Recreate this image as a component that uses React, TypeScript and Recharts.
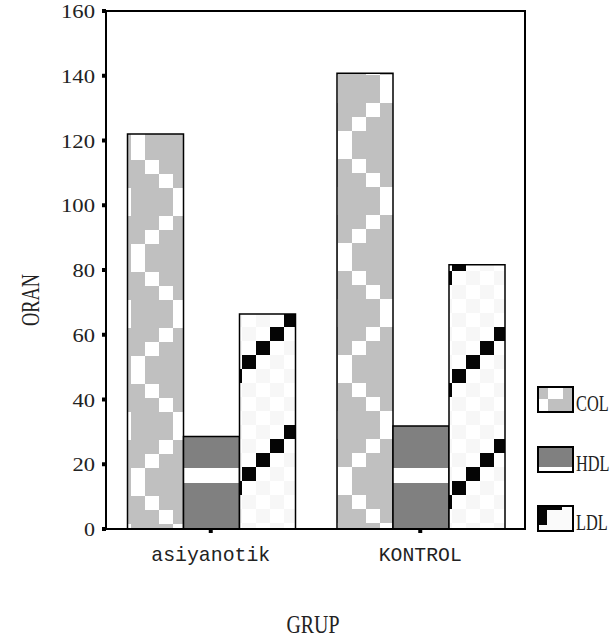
import React from 'react';
import { BarChart, Bar, XAxis, YAxis, Cell } from 'recharts';

const groups = ['asiyanotik', 'KONTROL'];
const colValues = [122, 140.8];
const hdlValues = [28.6, 31.8];
const ldlValues = [66.4, 81.6];
const seriesNames = ['COL', 'HDL', 'LDL'];
const yTicks = [0, 20, 40, 60, 80, 100, 120, 140, 160];

const data = groups.map((g, i) => ({
  grup: g,
  COL: colValues[i],
  HDL: hdlValues[i],
  LDL: ldlValues[i],
}));

const FONT = '"Liberation Serif", "DejaVu Serif", serif';
const MONO = '"Liberation Mono", "DejaVu Sans Mono", monospace';
const CELL = 14;
// zigzag column of the white cell, row by row
const ZIG = [0, 0, 1, 2, 3, 3, 2, 1];

function ColPattern({ id, x, y }: { id: string; x: number; y: number }) {
  return (
    <pattern id={id} patternUnits="userSpaceOnUse" x={x} y={y} width={CELL * 4} height={CELL * 8}>
      <rect width={CELL * 4} height={CELL * 8} fill="#c0c0c0" />
      {ZIG.map((c, r) => (
        <rect key={r} x={c * CELL} y={r * CELL} width={CELL} height={CELL} fill="#ffffff" />
      ))}
    </pattern>
  );
}

function LdlPattern() {
  const cells = [];
  for (let r = 0; r < 8; r++) {
    for (let c = 0; c < 8; c++) {
      const black = (c + r) % 8 === 2;
      const faint = (c + r) % 2 === 0;
      if (black || faint) {
        cells.push(
          <rect
            key={`${r}-${c}`}
            x={c * CELL}
            y={r * CELL}
            width={CELL}
            height={CELL}
            fill={black ? '#050505' : '#f7f7f7'}
          />
        );
      }
    }
  }
  return (
    <pattern id="ldl" patternUnits="userSpaceOnUse" x={4} y={5} width={CELL * 8} height={CELL * 8}>
      <rect width={CELL * 8} height={CELL * 8} fill="#ffffff" />
      {cells}
    </pattern>
  );
}

function XTick(props: any) {
  const { x, payload } = props;
  const label = String(payload.value);
  return (
    <text
      x={x}
      y={561}
      textAnchor="middle"
      fontFamily={MONO}
      fontSize={21}
      fill="#222"
      textLength={label.length * 12 - 1}
      lengthAdjust="spacingAndGlyphs"
    >
      {label}
    </text>
  );
}

function YTick(props: any) {
  const { y, payload } = props;
  const label = String(payload.value);
  return (
    <text
      x={95}
      y={y + 7}
      textAnchor="end"
      fontFamily={FONT}
      fontSize={19}
      fill="#222"
      textLength={label.length * 11.5 - 0.5}
      lengthAdjust="spacingAndGlyphs"
    >
      {label}
    </text>
  );
}

function GrupLabel() {
  return (
    <text x={313} y={633} textAnchor="middle" fontFamily={FONT} fontSize={25} fill="#222" textLength={53} lengthAdjust="spacingAndGlyphs">
      GRUP
    </text>
  );
}

function OranLabel() {
  return (
    <text
      x={39}
      y={300}
      transform="rotate(-90 39 300)"
      textAnchor="middle"
      fontFamily={FONT}
      fontSize={25}
      fill="#222"
      textLength={52}
      lengthAdjust="spacingAndGlyphs"
    >
      ORAN
    </text>
  );
}

function LegendSwatch({ name, y }: { name: string; y: number }) {
  return (
    <g>
      {name === 'COL' && (
        <g>
          <rect x={538} y={y} width={35} height={25} fill="#c0c0c0" />
          <rect x={548} y={y} width={15} height={12} fill="#ffffff" />
          <rect x={538} y={y + 12} width={10} height={13} fill="#ffffff" />
        </g>
      )}
      {name === 'HDL' && (
        <g>
          <rect x={538} y={y} width={35} height={25} fill="#808080" />
          <rect x={538} y={y + 20} width={35} height={5} fill="#ffffff" />
        </g>
      )}
      {name === 'LDL' && (
        <g>
          <rect x={538} y={y} width={35} height={25} fill="#fafafa" />
          <rect x={538} y={y} width={24} height={4} fill="#050505" />
          <rect x={538} y={y} width={9} height={19} fill="#050505" />
        </g>
      )}
      <rect x={538} y={y} width={35} height={25} fill="none" stroke="#000" strokeWidth={2} />
      <g transform={`translate(576 ${y + 24}) scale(0.68 1)`}>
        <text x={0} y={0} fontFamily={FONT} fontSize={24} fill="#222">
          {name}
        </text>
      </g>
    </g>
  );
}

export default function App() {
  const legendTops = [387, 447, 506];
  return (
    <div style={{ position: 'absolute', left: 0, top: 0, width: 614, height: 639, background: '#fff' }}>
      <BarChart
        width={614}
        height={639}
        data={data}
        margin={{ top: 11, right: 89, bottom: 70, left: 0 }}
        barCategoryGap={21.5}
        barGap={0}
      >
        <defs>
          <ColPattern id="col0" x={131} y={132} />
          <ColPattern id="col1" x={338} y={355} />
          <pattern id="hdl" patternUnits="userSpaceOnUse" x={0} y={468} width={CELL} height={CELL * 8}>
            <rect width={CELL} height={CELL * 8} fill="#808080" />
            <rect width={CELL} height={15} fill="#ffffff" />
          </pattern>
          <LdlPattern />
        </defs>
        <XAxis
          dataKey="grup"
          height={40}
          axisLine={false}
          tickLine={{ stroke: '#000', strokeWidth: 4 }}
          tickSize={4}
          tick={<XTick />}
          interval={0}
          label={<GrupLabel />}
        />
        <YAxis
          width={106}
          domain={[0, 160]}
          ticks={yTicks}
          interval={0}
          axisLine={false}
          tickLine={{ stroke: '#000', strokeWidth: 4 }}
          tickSize={4}
          tick={<YTick />}
          label={<OranLabel />}
        />
        <Bar dataKey="COL" isAnimationActive={false} stroke="#000" strokeWidth={1.5}>
          {data.map((d, i) => (
            <Cell key={d.grup} fill={`url(#col${i})`} />
          ))}
        </Bar>
        <Bar dataKey="HDL" isAnimationActive={false} fill="url(#hdl)" stroke="#000" strokeWidth={1.5} />
        <Bar dataKey="LDL" isAnimationActive={false} fill="url(#ldl)" stroke="#000" strokeWidth={1.5} />
      </BarChart>
      <div
        style={{
          position: 'absolute',
          left: 105,
          top: 10,
          width: 421,
          height: 520,
          border: '2px solid #000',
          boxSizing: 'border-box',
          pointerEvents: 'none',
        }}
      />
      <svg width={614} height={639} style={{ position: 'absolute', left: 0, top: 0, pointerEvents: 'none' }}>
        {seriesNames.map((n, i) => (
          <LegendSwatch key={n} name={n} y={legendTops[i]} />
        ))}
      </svg>
    </div>
  );
}
